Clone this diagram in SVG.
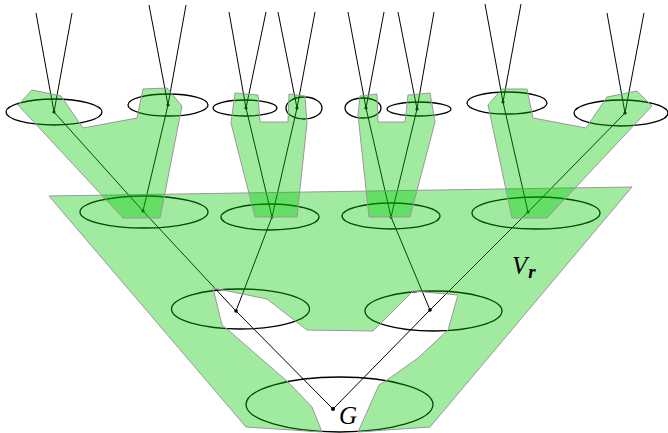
<svg xmlns="http://www.w3.org/2000/svg" width="668" height="433" viewBox="0 0 668 433">
<style>
.ell{fill:none;stroke:#000;stroke-width:1.3}
.ln{fill:none;stroke:#000;stroke-width:1}
.dot{fill:#000}
.reg{fill:rgb(0,200,0);fill-opacity:0.37;stroke:#999;stroke-width:1;stroke-linejoin:round}
.lbl{font-family:"Liberation Serif","Times New Roman",serif;font-style:italic;fill:#000}
</style>
<rect width="668" height="433" fill="#fff"/>
<g id="connectors">
<path class="ln" d="M36,13L54,112L72,13"/>
<path class="ln" d="M149,5L168,105L186,5"/>
<path class="ln" d="M229,12L246,108L266,12"/>
<path class="ln" d="M278,12L297,108L315,12"/>
<path class="ln" d="M348,12L366,108L384,12"/>
<path class="ln" d="M398,12L417,109L434,12"/>
<path class="ln" d="M485,4L503,102L521,4"/>
<path class="ln" d="M607,13L625,113L644,13"/>
<path class="ln" d="M54,112L143,211L236,311L333,409"/>
<path class="ln" d="M168,105L143,211"/>
<path class="ln" d="M246,108L272,217L297,108"/>
<path class="ln" d="M272,217L236,311"/>
<path class="ln" d="M366,108L391,217L417,109"/>
<path class="ln" d="M391,217L430,310"/>
<path class="ln" d="M503,102L528,212"/>
<path class="ln" d="M625,113L528,212L430,310L333,409"/>
</g>
<g id="nodes">
<g id="n1"><ellipse class="ell" cx="54" cy="112" rx="48" ry="13"/><circle class="dot" cx="54" cy="112" r="1.6"/></g>
<g id="n2"><ellipse class="ell" cx="168" cy="105" rx="40" ry="11"/><circle class="dot" cx="168" cy="105" r="1.6"/></g>
<g id="n3"><ellipse class="ell" cx="245" cy="108" rx="32" ry="8"/><circle class="dot" cx="246" cy="108" r="1.6"/></g>
<g id="n4"><ellipse class="ell" cx="304" cy="108" rx="18" ry="11"/><circle class="dot" cx="297" cy="108" r="1.6"/></g>
<g id="n5"><ellipse class="ell" cx="363" cy="108" rx="18" ry="10"/><circle class="dot" cx="366" cy="108" r="1.6"/></g>
<g id="n6"><ellipse class="ell" cx="419" cy="109" rx="32" ry="7"/><circle class="dot" cx="417" cy="109" r="1.6"/></g>
<g id="n7"><ellipse class="ell" cx="507" cy="103" rx="40" ry="11"/><circle class="dot" cx="503" cy="102" r="1.6"/></g>
<g id="n8"><ellipse class="ell" cx="621" cy="113" rx="47" ry="13"/><circle class="dot" cx="625" cy="113" r="1.6"/></g>
<g id="a"><ellipse class="ell" cx="144" cy="212" rx="64" ry="16"/><circle class="dot" cx="143" cy="211" r="1.6"/></g>
<g id="b"><ellipse class="ell" cx="270" cy="217" rx="49" ry="13"/><circle class="dot" cx="272" cy="217" r="1.6"/></g>
<g id="c"><ellipse class="ell" cx="391" cy="216" rx="49" ry="13"/><circle class="dot" cx="391" cy="217" r="1.6"/></g>
<g id="d"><ellipse class="ell" cx="536" cy="213" rx="64" ry="16"/><circle class="dot" cx="528" cy="212" r="1.6"/></g>
<g id="e"><ellipse class="ell" cx="240.5" cy="309" rx="69" ry="20"/><circle class="dot" cx="236" cy="311" r="1.8"/></g>
<g id="f"><ellipse class="ell" cx="433.5" cy="311" rx="68.5" ry="20"/><circle class="dot" cx="430" cy="310" r="1.8"/></g>
<g id="g"><ellipse class="ell" cx="339.5" cy="404.5" rx="93.5" ry="27.5"/><circle class="dot" cx="333" cy="409" r="2"/></g>
</g>
<g id="regions">
<polygon class="reg" points="49,196 632,187 430,427 358,432 379,385 387,380 418,358 448,330 458,295 413,291 373,331 307,330 267,299 213,288 222,325 227,329 288,382 312,407 322,432 246,427"/>
<polygon class="reg" points="18,105 32,90 61,96 83,128 137,118 143,89 167,88 182,106 160,218 123,218"/>
<polygon class="reg" points="235,93 258,95 260,122 288,122 289,94 305,96 307,123 297,217 255,217 231,123"/>
<polygon class="reg" points="360,96 377,94 378,122 405,122 408,95 430,93 435,122 410,217 369,217 358,115"/>
<polygon class="reg" points="502,89 527,89 533,118 586,128 607,97 637,91 652,106 547,218 512,218 488,105"/>
</g>
<g id="labels">
<text class="lbl" x="512" y="274" font-size="25">V<tspan font-size="19" font-weight="bold" dx="1" dy="4">r</tspan></text>
<text class="lbl" x="339" y="424" font-size="25">G</text>
</g>
</svg>
